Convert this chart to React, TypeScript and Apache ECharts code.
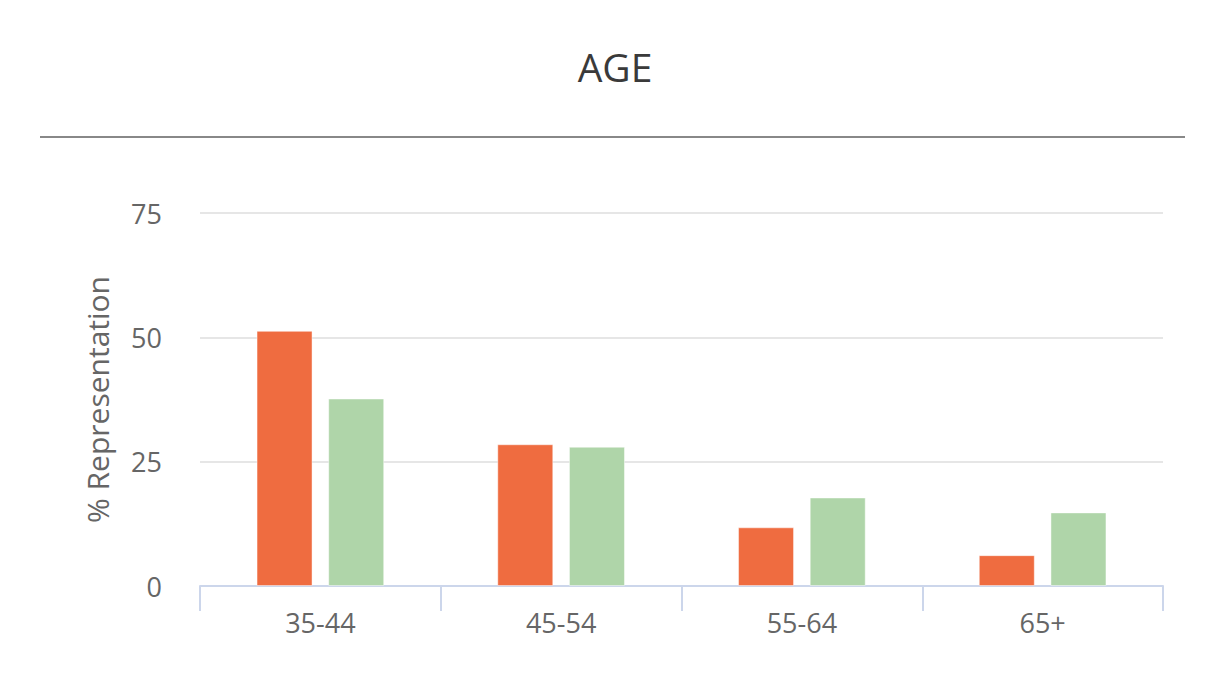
import React, { useEffect, useRef } from "react";
import * as echarts from "echarts";

const categories = ["35-44", "45-54", "55-64", "65+"];
const seriesOrange = [51.3, 28.5, 11.8, 6.2];
const seriesGreen = [37.7, 28.0, 17.8, 14.8];
const yTicks = { min: 0, max: 75, interval: 25 };

const FONT = "'Open Sans', 'Noto Sans', sans-serif";

export default function App() {
  const ref = useRef<HTMLDivElement>(null);
  useEffect(() => {
    document.body.style.margin = "0";
    if (!ref.current) return;
    const chart = echarts.init(ref.current, null, { renderer: "svg" });
    chart.setOption({
      animation: false,
      backgroundColor: "#ffffff",
      textStyle: { fontFamily: FONT },
      title: {
        text: "AGE",
        left: "center",
        top: 42,
        textStyle: { fontFamily: FONT, fontSize: 39, fontWeight: "normal", color: "#3a3a3a" },
      },
      graphic: [
        {
          type: "line",
          shape: { x1: 40, y1: 137, x2: 1185, y2: 137 },
          style: { stroke: "#888888", lineWidth: 2 },
        },
      ],
      grid: { left: 200, right: 67, top: 213, bottom: 94, containLabel: false },
      xAxis: {
        type: "category",
        data: categories,
        axisLine: { lineStyle: { color: "#ccd6eb", width: 2 } },
        axisTick: { show: true, length: 25, lineStyle: { color: "#ccd6eb", width: 2 } },
        axisLabel: { fontFamily: FONT, fontSize: 27, color: "#666666", margin: 23 },
      },
      yAxis: {
        type: "value",
        min: yTicks.min,
        max: yTicks.max,
        interval: yTicks.interval,
        name: "% Representation",
        nameLocation: "middle",
        nameRotate: 90,
        nameGap: 88,
        nameTextStyle: { fontFamily: FONT, fontSize: 30, color: "#666666" },
        axisLine: { show: false },
        axisTick: { show: false },
        axisLabel: { fontFamily: FONT, fontSize: 27, color: "#666666", margin: 38 },
        splitLine: { lineStyle: { color: "#e6e6e6", width: 2 } },
      },
      series: [
        {
          type: "bar",
          data: seriesOrange,
          barWidth: 56,
          barGap: "28%",
          itemStyle: { color: "#ef6c40", borderColor: "rgba(255,255,255,0.45)", borderWidth: 1 },
        },
        {
          type: "bar",
          data: seriesGreen,
          barWidth: 56,
          itemStyle: { color: "#afd5a9", borderColor: "rgba(255,255,255,0.45)", borderWidth: 1 },
        },
      ],
    });
    return () => chart.dispose();
  }, []);
  return <div ref={ref} style={{ width: 1230, height: 680 }} />;
}
